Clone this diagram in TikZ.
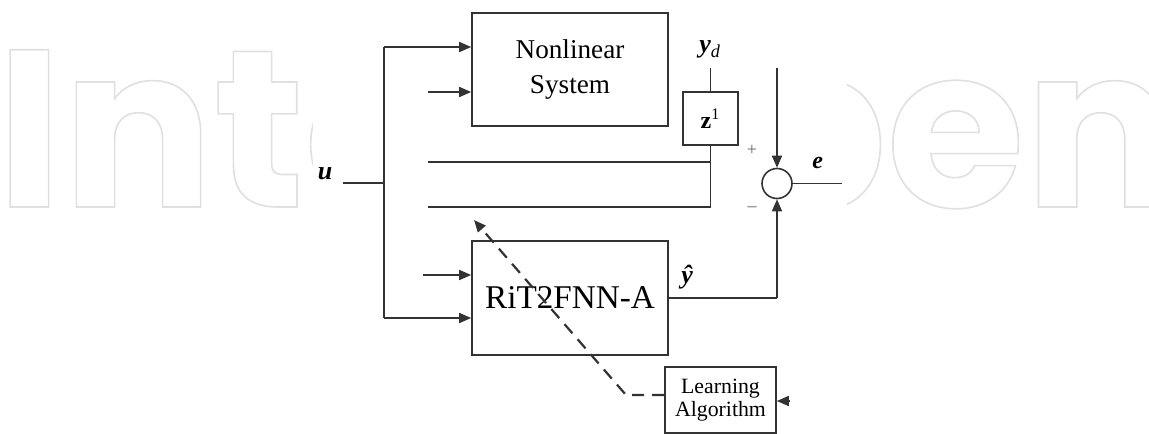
\documentclass[tikz,border=0pt]{standalone}
\usepackage{fontspec}
\setmainfont{Liberation Serif}
\newfontfamily\wmfont{Poppins}
\usetikzlibrary{arrows.meta}
\newcommand{\outlinetext}[1]{\special{pdf:literal direct 1 Tr 0.8 w}#1\special{pdf:literal direct 0 Tr}}
\begin{document}
\begin{tikzpicture}[x=0.5pt,y=-0.5pt,
  box/.style={draw=black!80, line width=0.8pt, inner sep=0pt, align=center},
  ln/.style={draw=black!80, line width=0.8pt},
  arr/.style={ln, -{Triangle[length=6pt,width=5pt]}},
  lbl/.style={inner sep=0pt, font=\bfseries\itshape\fontsize{13}{15}\selectfont},
  sgn/.style={inner sep=0pt, text=black!60, font=\fontsize{9}{10}\selectfont},
  wm/.style={inner sep=0pt, text=black!12, font=\wmfont\bfseries\fontsize{112}{112}\selectfont}]
\useasboundingbox (0,0) rectangle (1149,433);
\fill[white] (0,0) rectangle (1149,433);
% watermark
\node[wm, anchor=base west] (wm1) at (-4,207) {\outlinetext{Inte}};
\node[wm, anchor=base east] (wm2) at (1176,207) {\outlinetext{pen}};
\fill[white] (313,0) rectangle (847,433);
% blocks
\node[box, minimum width=98pt, minimum height=56.5pt, font=\fontsize{13.6}{17.5}\selectfont] (ns) at (570,69.5) {Nonlinear\\System};
\node[box, minimum width=98pt, minimum height=57pt, font=\fontsize{16.6}{18}\selectfont] (rit) at (570,298) {RiT2FNN-A};
\node[box, minimum width=27.5pt, minimum height=26.5pt, font=\fontsize{12}{14}\selectfont] (z) at (710.5,118.5) {\textbf{z}\textsuperscript{1}};
\node[box, minimum width=55.5pt, minimum height=33pt, font=\fontsize{10.9}{11.5}\selectfont] (la) at (720.5,400) {Learning\\Algorithm};
\node[draw=black!80, line width=0.8pt, circle, minimum size=15pt, inner sep=0pt] (sum) at (777,183.5) {};
% labels
\node[lbl, anchor=base] (u) at (325,179) {u};
\node[lbl, anchor=base west] (yd) at (699,53) {y\textsubscript{\mdseries d}};
\node[lbl, anchor=base west, font=\bfseries\itshape\fontsize{12}{14}\selectfont] (e) at (812,168) {e};
\node[lbl, anchor=base west] (yh) at (681,283) {ŷ};
\node[sgn] (plus) at (752,150) {+};
\node[sgn] (minus) at (752,209) {\textendash};
% coordinates
\coordinate (uin) at (343,183);
\coordinate (j) at (384,183);
\coordinate (top) at (384,47);
\coordinate (bot) at (384,318);
\coordinate (f1) at (428,92);
\coordinate (f2) at (423,275);
\coordinate (ydtop) at (710.5,68);
\coordinate (zb) at (710.5,207);
\coordinate (h1) at (428,162);
\coordinate (h1r) at (710.5,162);
\coordinate (h2) at (428,207);
\coordinate (stop) at (777,68);
\coordinate (eout) at (842,183.5);
\coordinate (yc) at (777,298);
\coordinate (lin) at (790,401);
\coordinate (dc) at (626,395);
\coordinate (dt) at (474,220);
% connectors
\draw[ln] (uin) -- (j);
\draw[ln] (top) -- (bot);
\draw[arr] (top) -- (top -| ns.west);
\draw[arr] (bot) -- (bot -| rit.west);
\draw[arr] (f1) -- (f1 -| ns.west);
\draw[arr] (f2) -- (f2 -| rit.west);
\draw[ln] (ydtop) -- (z.north);
\draw[ln] (z.south) -- (zb) -- (h2);
\draw[ln] (h1) -- (h1r);
\draw[arr] (stop) -- (sum.north);
\draw[ln] (sum.east) -- (eout);
\draw[ln] (rit.east) -- (yc);
\draw[arr] (yc) -- (sum.south);
\draw[arr] (lin) -- (lin -| la.east);
\draw[ln, dashed, line width=1.1pt, dash pattern=on 6pt off 4pt, -{Triangle[length=6pt,width=5pt]}] (la.west |- dc) -- (dc) -- (dt);
\end{tikzpicture}
\end{document}
